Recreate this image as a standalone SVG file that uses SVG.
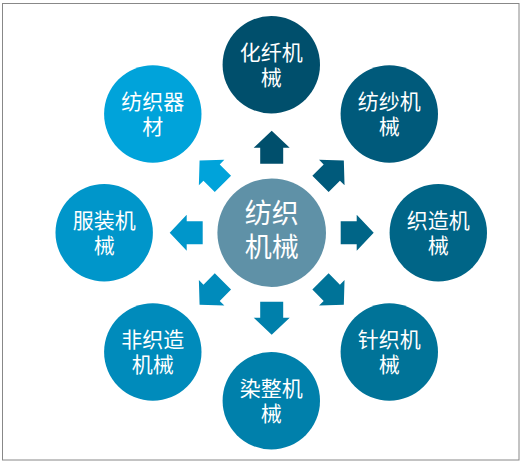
<svg xmlns="http://www.w3.org/2000/svg" width="526" height="466" viewBox="0 0 526 466">
<style>
.t{font-family:"Noto Sans CJK SC","Noto Sans",sans-serif;font-size:21px;fill:#fff;text-anchor:middle}
.c{font-family:"Noto Sans CJK SC","Noto Sans",sans-serif;font-size:27px;fill:#fff;text-anchor:middle}
</style>
<defs>
<path id="arr" d="M69,-11.5 L85,-11.5 L85,-18 L102,0 L85,18 L85,11.5 L69,11.5 Z"/>
</defs>
<rect x="2.5" y="3.5" width="516.5" height="456.5" fill="#fff" stroke="#888" stroke-width="1"/>
<g id="connectors" transform="translate(271.7,232.7)">
<use href="#arr" transform="rotate(-90)" fill="#004f6c"/>
<use href="#arr" transform="rotate(-45)" fill="#005a7b"/>
<use href="#arr" transform="rotate(0)" fill="#006587"/>
<use href="#arr" transform="rotate(45)" fill="#007398"/>
<use href="#arr" transform="rotate(90)" fill="#0080ab"/>
<use href="#arr" transform="rotate(135)" fill="#008bbb"/>
<use href="#arr" transform="rotate(180)" fill="#0096ca"/>
<use href="#arr" transform="rotate(225)" fill="#00a3da"/>
</g>
<g id="center">
<circle cx="271.7" cy="232.7" r="54.3" fill="#5f91a7"/>
<text class="c" x="271.7" y="223">纺织</text>
<text class="c" x="271.7" y="257">机械</text>
</g>
<g id="n1">
<circle cx="271.3" cy="64.7" r="48.7" fill="#004f6c"/>
<text class="t" x="271.3" y="59.5">化纤机</text>
<text class="t" x="271.3" y="84.5">械</text>
</g>
<g id="n2">
<circle cx="389.3" cy="114" r="48.7" fill="#005a7b"/>
<text class="t" x="389.3" y="108.8">纺纱机</text>
<text class="t" x="389.3" y="133.8">械</text>
</g>
<g id="n3">
<circle cx="438.3" cy="232.7" r="48.7" fill="#006587"/>
<text class="t" x="438.3" y="227.5">织造机</text>
<text class="t" x="438.3" y="252.5">械</text>
</g>
<g id="n4">
<circle cx="389.3" cy="352" r="48.7" fill="#007398"/>
<text class="t" x="389.3" y="346.8">针织机</text>
<text class="t" x="389.3" y="371.8">械</text>
</g>
<g id="n5">
<circle cx="271.3" cy="400.7" r="48.7" fill="#0080ab"/>
<text class="t" x="271.3" y="395.5">染整机</text>
<text class="t" x="271.3" y="420.5">械</text>
</g>
<g id="n6">
<circle cx="152.8" cy="352" r="48.7" fill="#008bbb"/>
<text class="t" x="152.8" y="346.8">非织造</text>
<text class="t" x="152.8" y="371.8">机械</text>
</g>
<g id="n7">
<circle cx="104.2" cy="232.7" r="48.7" fill="#0096ca"/>
<text class="t" x="104.2" y="227.5">服装机</text>
<text class="t" x="104.2" y="252.5">械</text>
</g>
<g id="n8">
<circle cx="152.8" cy="114" r="48.7" fill="#00a3da"/>
<text class="t" x="152.8" y="108.8">纺织器</text>
<text class="t" x="152.8" y="133.8">材</text>
</g>
</svg>
